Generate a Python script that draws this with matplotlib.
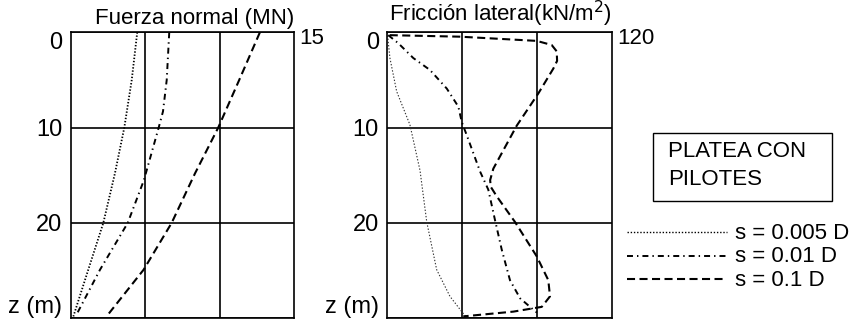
import numpy as np
import matplotlib
matplotlib.use('Agg')
import matplotlib.pyplot as plt
from matplotlib.patches import Rectangle

plt.rcParams['font.family'] = ['Liberation Sans', 'DejaVu Sans']
plt.rcParams['lines.scale_dashes'] = False

# Fuerza normal (MN) vs z (m)
fn_z_005 = [0, 5, 10, 14.8, 20, 24.9, 29.8]
fn_x_005 = [4.47, 4.1, 3.6, 2.97, 2.19, 1.18, 0.18]
fn_z_01 = [0, 5, 8.3, 10, 15.5, 20, 24.9, 29.7]
fn_x_01 = [6.62, 6.45, 6.2, 5.91, 4.92, 3.83, 1.97, 0.36]
fn_z_1 = [0, 5, 10, 14.8, 20, 24.9, 29.7]
fn_x_1 = [12.71, 11.32, 9.91, 8.35, 6.78, 4.9, 2.46]

# Friccion lateral (kN/m2) vs z (m)
fl_z_005 = [0, 1, 2.7, 6.2, 9.7, 14.5, 19.9, 24.9, 27.7, 29.5, 29.8]
fl_x_005 = [0, 0.5, 1.4, 5.0, 12.1, 17.5, 21.1, 26.4, 33.5, 40.6, 42]
fl_z_01 = [0.3, 1.15, 2.7, 3.95, 5.9, 7.8, 9.4, 10.8, 14.6, 16.5, 19.7, 22.8, 26.0, 27.9, 29.1, 29.4]
fl_x_01 = [0.5, 5.9, 13.9, 22.8, 31.8, 38.0, 39.8, 42.5, 49.6, 54.0, 57.6, 61.2, 65.6, 71.0, 78.1, 80]
fl_z_1 = [0.3, 0.46, 0.9, 1.33, 2.0, 3.0, 3.8, 6.4, 9.8, 14.3, 15.5, 16.2, 17.2, 19.9, 23.5, 26.0, 27.7, 28.8, 29.3, 29.8]
fl_x_1 = [1.3, 38.9, 79.9, 87.9, 90.6, 90.8, 88.8, 80.8, 69.2, 56.7, 55.0, 55.3, 58.5, 68.3, 79.9, 86.1, 87.0, 82.6, 67.4, 40.6]

labels = ['s = 0.005 D', 's = 0.01 D', 's = 0.1 D']
ytick_vals = [0, 10, 20, 30]
ytick_labels = ['0', '10', '20', 'z (m)']

dot = (0, (1.0, 1.3))
dashdot = (0, (4.3, 2.9, 1.0, 2.9))
dash = (0, (5.8, 3.2))
fs = 16

W, H = 853, 322
fig = plt.figure(figsize=(W/100, H/100), dpi=100)
ax1 = fig.add_axes([70.7/W, 3.7/H, 223.3/W, 286/H])
ax2 = fig.add_axes([387.3/W, 3.7/H, 224.4/W, 286/H])


def setup(ax, xmax, title, xmaxlabel):
    ax.set_xlim(0, xmax)
    ax.set_ylim(30, 0)
    ax.set_xticks([xmax/3, 2*xmax/3])
    ax.set_xticklabels([])
    ax.tick_params(axis='x', length=0)
    ax.set_yticks(ytick_vals)
    ax.set_yticklabels(ytick_labels, fontsize=17)
    ax.tick_params(axis='y', length=0, pad=6)
    tl = ax.get_yticklabels()
    tl[0].set_va('top')
    tl[-1].set_va('bottom')
    ax.grid(True, color='black', lw=1.2)
    for s in ax.spines.values():
        s.set_linewidth(1.2)
    ax.text(1.0, 1.012, title, transform=ax.transAxes, ha='right', va='bottom', fontsize=fs)
    ax.annotate(xmaxlabel, xy=(1, 1), xycoords='axes fraction', xytext=(4, 3),
                textcoords='offset points', ha='left', va='top', fontsize=fs)


setup(ax1, 15, 'Fuerza normal (MN)', '15')
setup(ax2, 120, 'Fricción lateral(kN/m$^2$)', '120')

ax1.plot(fn_x_005, fn_z_005, color='black', lw=1.3, ls=dot)
ax1.plot(fn_x_01, fn_z_01, color='black', lw=1.4, ls=dashdot)
ax1.plot(fn_x_1, fn_z_1, color='black', lw=1.5, ls=dash)

ax2.plot(fl_x_005, fl_z_005, color='#333333', lw=0.8, ls=dot)
ax2.plot(fl_x_01, fl_z_01, color='black', lw=1.4, ls=dashdot)
ax2.plot(fl_x_1, fl_z_1, color='black', lw=1.5, ls=dash, clip_on=False)

# caja de texto
fig.add_artist(Rectangle((652.7/W, 1 - 200.7/H), 179.6/W, 67.4/H, transform=fig.transFigure,
                         fc='white', ec='black', lw=1.0))
fig.text(668.3/W, 1 - 151.7/H, 'PLATEA CON', fontsize=fs, ha='left', va='center')
fig.text(668.3/W, 1 - 179.5/H, 'PILOTES', fontsize=fs, ha='left', va='center')

# leyenda manual
styles = [(dot, 1.0), (dashdot, 1.4), (dash, 1.5)]
rows_y = [233.5, 257, 280.5]
for (ls, lw), lab, yy in zip(styles, labels, rows_y):
    fy = 1 - yy/H
    fig.add_artist(plt.Line2D([627/W, 727/W], [fy + 1.5/H, fy + 1.5/H], color='black', lw=lw, ls=ls))
    fig.text(735/W, fy, lab, fontsize=fs, ha='left', va='center')

fig.savefig('out.png', dpi=100)
